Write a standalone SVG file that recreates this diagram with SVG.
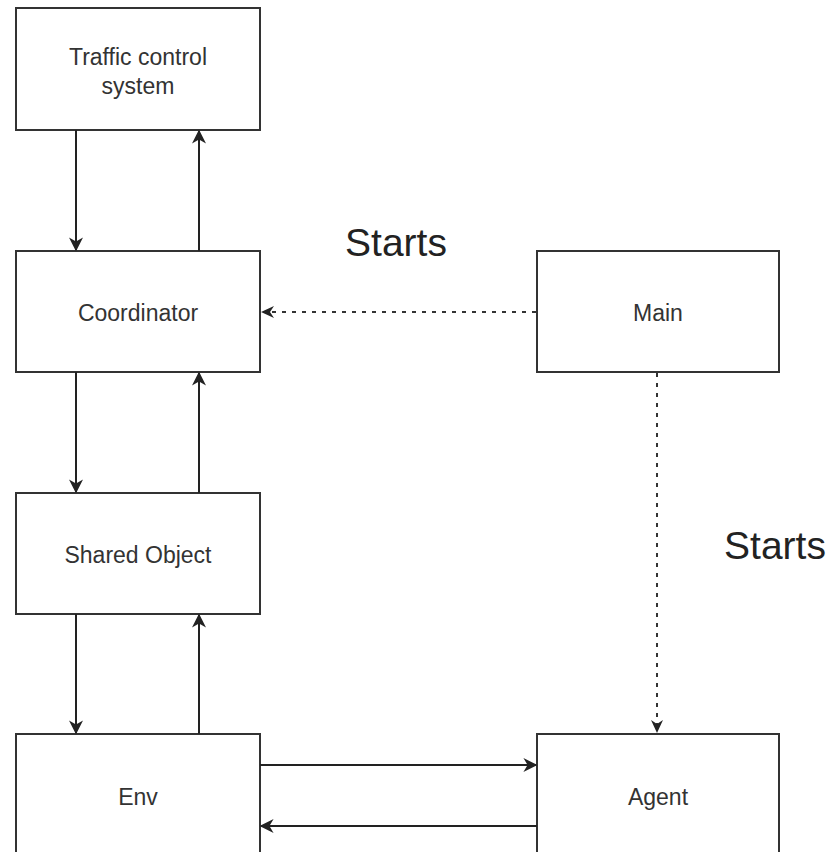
<svg xmlns="http://www.w3.org/2000/svg" width="830" height="852" viewBox="0 0 830 852">
  <style>
    .box { fill: #ffffff; stroke: #333333; stroke-width: 2; }
    .lbl { font-family: "Liberation Sans", Arial, sans-serif; font-size: 23px; fill: #333333; text-anchor: middle; dominant-baseline: central; }
    .big { font-family: "Liberation Sans", Arial, sans-serif; font-size: 39px; fill: #222222; text-anchor: middle; dominant-baseline: central; }
    .edge { stroke: #222222; stroke-width: 2; fill: none; }
    .dot { stroke: #333333; stroke-width: 2; fill: none; stroke-dasharray: 4 6; }
  </style>
  <defs>
    <marker id="arrowBig" viewBox="0 0 10 10" refX="9" refY="5" markerWidth="14" markerHeight="14" orient="auto" markerUnits="userSpaceOnUse">
      <path d="M0,0 L10,5 L0,10 L3,5 Z" fill="#222222"/>
    </marker>
  </defs>
  <rect width="830" height="852" fill="#ffffff"/>

  <g id="traffic">
    <rect class="box" x="16" y="8" width="244" height="122"/>
    <text class="lbl" x="138" y="57">Traffic control</text>
    <text class="lbl" x="138" y="86">system</text>
  </g>
  <g id="coordinator">
    <rect class="box" x="16" y="251" width="244" height="121"/>
    <text class="lbl" x="138" y="313">Coordinator</text>
  </g>
  <g id="shared">
    <rect class="box" x="16" y="493" width="244" height="121"/>
    <text class="lbl" x="138" y="555">Shared Object</text>
  </g>
  <g id="env">
    <rect class="box" x="16" y="734" width="244" height="130"/>
    <text class="lbl" x="138" y="797">Env</text>
  </g>
  <g id="main">
    <rect class="box" x="537" y="251" width="242" height="121"/>
    <text class="lbl" x="658" y="313">Main</text>
  </g>
  <g id="agent">
    <rect class="box" x="537" y="734" width="242" height="130"/>
    <text class="lbl" x="658" y="797">Agent</text>
  </g>

  <g id="connectors">
    <line class="edge" x1="76" y1="130" x2="76" y2="250" marker-end="url(#arrowBig)"/>
    <line class="edge" x1="199" y1="251" x2="199" y2="131" marker-end="url(#arrowBig)"/>
    <line class="edge" x1="76" y1="372" x2="76" y2="492" marker-end="url(#arrowBig)"/>
    <line class="edge" x1="199" y1="493" x2="199" y2="373" marker-end="url(#arrowBig)"/>
    <line class="edge" x1="76" y1="614" x2="76" y2="733" marker-end="url(#arrowBig)"/>
    <line class="edge" x1="199" y1="734" x2="199" y2="615" marker-end="url(#arrowBig)"/>
    <line class="edge" x1="260" y1="765" x2="536" y2="765" marker-end="url(#arrowBig)"/>
    <line class="edge" x1="537" y1="826" x2="261" y2="826" marker-end="url(#arrowBig)"/>
    <line class="dot" x1="536" y1="312" x2="264" y2="312"/>
    <path d="M261,312 L274,306 L270,312 L274,318 Z" fill="#222222"/>
    <line class="dot" x1="657" y1="373" x2="657" y2="728"/>
    <path d="M657,733 L651,720 L657,724 L663,720 Z" fill="#222222"/>
    <text class="big" x="396" y="242">Starts</text>
    <text class="big" x="775" y="545">Starts</text>
  </g>
</svg>
